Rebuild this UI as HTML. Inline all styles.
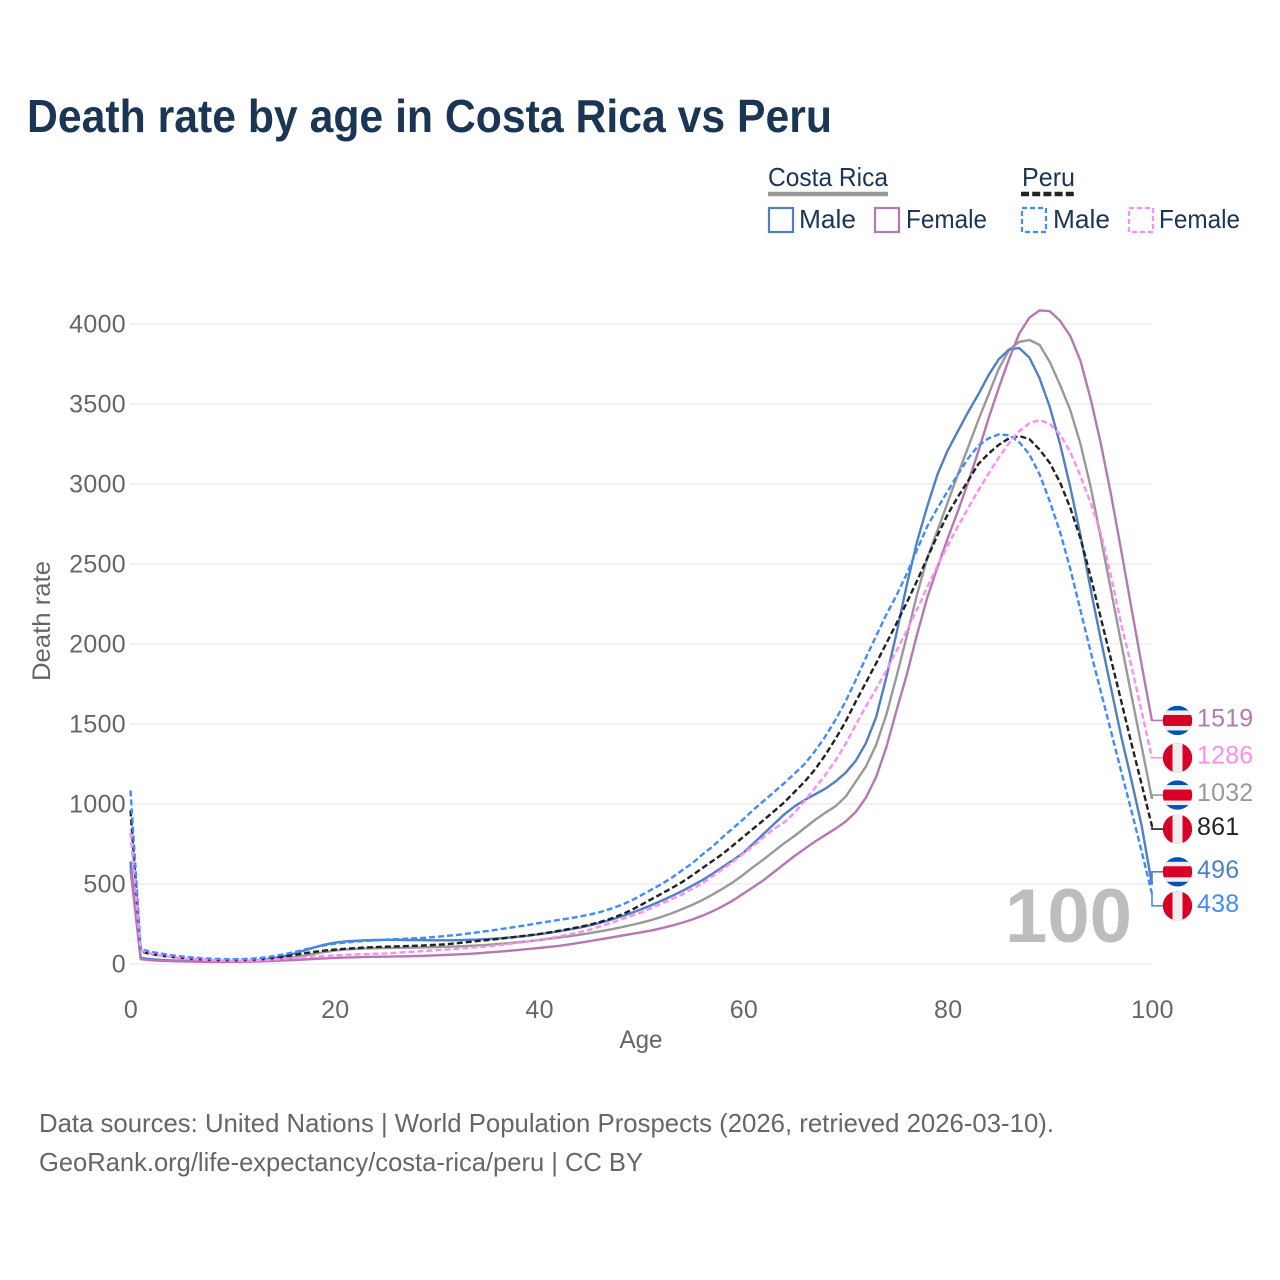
<!DOCTYPE html>
<html lang="en">
<head>
<meta charset="utf-8">
<title>Death rate by age in Costa Rica vs Peru</title>
<style>
html,body{margin:0;padding:0;background:#fff;width:1280px;height:1280px;overflow:hidden}
svg{display:block}
text{font-family:"Liberation Sans",sans-serif}
</style>
</head>
<body>
<svg id="chart" xmlns="http://www.w3.org/2000/svg" width="1280" height="1280" viewBox="0 0 1280 1280">
  <rect width="1280" height="1280" fill="#fff"/>
  <text x="27" y="132" font-size="46" font-weight="700" fill="#1b3555" textLength="805" lengthAdjust="spacingAndGlyphs">Death rate by age in Costa Rica vs Peru</text>

  <g>
    <text x="768" y="186" font-size="26" fill="#1b3555" textLength="120" lengthAdjust="spacingAndGlyphs">Costa Rica</text>
    <line x1="768" x2="888" y1="194" y2="194" stroke="#999" stroke-width="4.5"/>
    <text x="1022" y="186" font-size="26" fill="#1b3555" textLength="53" lengthAdjust="spacingAndGlyphs">Peru</text>
    <line x1="1021" x2="1075" y1="194" y2="194" stroke="#222" stroke-width="4.5" stroke-dasharray="8 3.2"/>

    <g>
      <rect x="769" y="208" width="24" height="24" fill="none" stroke="#4f80c6" stroke-width="2.2"/>
      <text x="799" y="228" font-size="26" fill="#1b3555" textLength="57" lengthAdjust="spacingAndGlyphs">Male</text>
    </g>
    <g>
      <rect x="875" y="208" width="24" height="24" fill="none" stroke="#b678b4" stroke-width="2.2"/>
      <text x="906" y="228" font-size="26" fill="#1b3555" textLength="81" lengthAdjust="spacingAndGlyphs">Female</text>
    </g>
    <g>
      <rect x="1022" y="208" width="24" height="24" fill="none" stroke="#3f8cff" stroke-width="2.2" stroke-dasharray="5 3"/>
      <text x="1053" y="228" font-size="26" fill="#1b3555" textLength="57" lengthAdjust="spacingAndGlyphs">Male</text>
    </g>
    <g>
      <rect x="1129" y="208" width="24" height="24" fill="none" stroke="#ff8cf2" stroke-width="2.2" stroke-dasharray="5 3"/>
      <text x="1159" y="228" font-size="26" fill="#1b3555" textLength="81" lengthAdjust="spacingAndGlyphs">Female</text>
    </g>
  </g>

  <g id="grid"></g>
  <g id="yticks"></g>
  <g id="xticks"></g>
  <text transform="translate(50,621) rotate(-90)" text-anchor="middle" font-size="25" fill="#666" textLength="120" lengthAdjust="spacingAndGlyphs">Death rate</text>
  <text x="641" y="1048" text-anchor="middle" font-size="25" fill="#666" textLength="43" lengthAdjust="spacingAndGlyphs">Age</text>

  <text x="1005" y="942" font-size="76" font-weight="700" fill="#bdbdbd" textLength="127" lengthAdjust="spacingAndGlyphs">100</text>

  <g id="series"></g>
  <g id="endlabels"></g>

  <text x="39" y="1132" font-size="26" fill="#666" textLength="1015" lengthAdjust="spacingAndGlyphs">Data sources: United Nations | World Population Prospects (2026, retrieved 2026-03-10).</text>
  <text x="39" y="1171" font-size="26" fill="#666" textLength="604" lengthAdjust="spacingAndGlyphs">GeoRank.org/life-expectancy/costa-rica/peru | CC BY</text>
</svg>
<script>
const xTickLabels = [0, 20, 40, 60, 80, 100];
const yTickLabels = [0, 500, 1000, 1500, 2000, 2500, 3000, 3500, 4000];
const ages = [0,1,2,3,4,5,6,7,8,9,10,11,12,13,14,15,16,17,18,19,20,21,22,23,24,25,26,27,28,29,30,31,32,33,34,35,36,37,38,39,40,41,42,43,44,45,46,47,48,49,50,51,52,53,54,55,56,57,58,59,60,61,62,63,64,65,66,67,68,69,70,71,72,73,74,75,76,77,78,79,80,81,82,83,84,85,86,87,88,89,90,91,92,93,94,95,96,97,98,99,100];

const costaRicaTotal = [615,34,27,23,20,18,16,15,14,14,15,16,18,21,26,33,42,53,64,75,84,90,94,97,99,100,101,102,103,104,106,108,110,113,116,120,125,130,136,142,150,158,166,174,183,193,204,216,229,243,258,275,295,317,343,370,400,435,472,512,558,608,655,705,755,800,850,900,945,985,1045,1140,1235,1370,1560,1800,2050,2310,2537,2710,2885,3060,3230,3400,3560,3720,3838,3888,3900,3869,3762,3619,3462,3250,2980,2660,2330,2000,1675,1355,1032];
const costaRicaMale = [640,38,30,25,22,20,18,17,16,16,17,18,21,27,36,48,65,84,104,121,133,141,145,148,150,151,151,150,150,149,148,148,149,151,153,156,160,165,171,178,186,195,205,216,228,242,258,276,296,318,342,368,396,425,456,490,525,565,608,650,695,755,815,875,935,985,1025,1060,1095,1140,1195,1270,1381,1544,1794,2070,2370,2640,2860,3060,3210,3330,3450,3560,3680,3780,3840,3850,3790,3660,3480,3250,2980,2680,2340,2025,1720,1419,1145,860,496];
const costaRicaFemale = [590,30,24,20,18,16,15,14,13,13,14,14,15,17,19,22,25,28,32,35,38,40,42,44,45,46,47,48,50,52,54,57,60,63,67,72,77,82,88,94,100,107,114,123,133,143,154,165,176,187,198,210,224,240,258,278,302,330,362,398,440,482,525,575,625,675,720,765,805,845,890,950,1040,1170,1356,1587,1810,2060,2290,2480,2660,2830,3010,3205,3410,3600,3780,3940,4040,4085,4080,4020,3925,3770,3530,3250,2930,2580,2220,1865,1519];
const peruTotal = [960,78,62,52,44,38,33,29,27,25,24,26,28,32,38,46,56,67,76,84,90,95,99,103,106,108,110,112,114,117,120,124,130,137,144,150,157,164,172,179,187,197,208,220,232,246,263,283,307,336,370,405,440,475,512,555,600,645,690,742,795,848,900,955,1010,1075,1140,1215,1305,1405,1515,1640,1760,1880,2005,2130,2260,2395,2537,2680,2810,2920,3020,3125,3190,3245,3285,3300,3280,3215,3131,3010,2850,2660,2420,2160,1900,1640,1375,1120,861];
const peruMale = [1085,92,76,65,55,47,41,36,33,31,30,31,34,40,49,60,74,90,104,117,127,134,140,144,148,152,155,158,161,165,170,176,182,190,198,207,216,225,235,245,256,266,276,286,297,310,325,345,368,395,430,465,500,540,585,630,685,735,795,850,905,965,1020,1075,1130,1190,1250,1330,1420,1525,1640,1775,1915,2050,2185,2305,2440,2590,2735,2850,2955,3060,3160,3240,3285,3310,3305,3262,3185,3060,2890,2700,2470,2210,1950,1700,1450,1200,955,700,438];
const peruFemale = [820,85,65,52,43,36,31,27,24,22,21,21,22,24,28,33,38,42,46,50,54,57,60,62,64,66,70,74,78,82,87,91,95,100,105,110,117,125,133,141,150,161,173,186,200,215,235,256,278,300,322,350,378,405,435,470,505,550,595,640,690,740,795,845,885,945,1020,1100,1180,1270,1375,1495,1610,1720,1835,1960,2085,2215,2355,2490,2615,2735,2850,2960,3065,3165,3255,3330,3380,3400,3375,3310,3200,3050,2880,2690,2420,2120,1860,1575,1286];

const seriesOrder = [
  {key: 'costa-rica-total', values: costaRicaTotal, color: '#999999', dashed: false, flag: 'cr'},
  {key: 'costa-rica-male', values: costaRicaMale, color: '#4f80c6', dashed: false, flag: 'cr'},
  {key: 'costa-rica-female', values: costaRicaFemale, color: '#b678b4', dashed: false, flag: 'cr'},
  {key: 'peru-total', values: peruTotal, color: '#222222', dashed: true, flag: 'pe'},
  {key: 'peru-male', values: peruMale, color: '#3f8cff', dashed: true, flag: 'pe'},
  {key: 'peru-female', values: peruFemale, color: '#ff8cf2', dashed: true, flag: 'pe'}
];

const NS = 'http://www.w3.org/2000/svg';
const xScale = function (age) { return 130.5 + age * 10.215; };
const yScale = function (v) { return 964 - v * 0.16; };

function make(tag, attrs, parent) {
  const el = document.createElementNS(NS, tag);
  for (const k in attrs) { el.setAttribute(k, attrs[k]); }
  parent.appendChild(el);
  return el;
}

const gridG = document.getElementById('grid');
const yTickG = document.getElementById('yticks');
const xTickG = document.getElementById('xticks');
const seriesG = document.getElementById('series');
const endG = document.getElementById('endlabels');

yTickLabels.forEach(function (t) {
  const line = make('line', {x1: 130, x2: 1152, y1: yScale(t), y2: yScale(t), stroke: '#eeeeee', 'stroke-width': 1.5}, gridG);
  
  
  const label = make('text', {x: 126, y: yScale(t) + 8.5, 'text-anchor': 'end', 'font-size': 25, fill: '#666', 'letter-spacing': '0.3'}, yTickG);
  label.textContent = t;
  
  
});

xTickLabels.forEach(function (t) {
  const label = make('text', {x: xScale(t) + 0.5, y: 1018, 'text-anchor': 'middle', 'font-size': 25, fill: '#666', 'letter-spacing': '0.3'}, xTickG);
  label.textContent = t;
  
  
});

seriesOrder.forEach(function (s) {
  const pts = s.values.map(function (v, i) { return xScale(ages[i]).toFixed(2) + ',' + yScale(v).toFixed(2); }).join(' ');
  const line = make('polyline', {points: pts, fill: 'none', stroke: s.color, 'stroke-width': 2.4, 'stroke-linejoin': 'round'}, seriesG);
  if (s.dashed) { line.setAttribute('stroke-dasharray', '6 3'); }
  
  
});

/* End labels: sorted by value, overlapping neighbours spread around their shared centre */
const MIN_GAP = 34;
const ends = seriesOrder.map(function (s) {
  const v = s.values[s.values.length - 1];
  return {s: s, v: v, target: yScale(v)};
}).sort(function (a, b) { return a.target - b.target; });

let clusters = ends.map(function (e) { return {items: [e], center: e.target}; });
let merged = true;
while (merged) {
  merged = false;
  for (let i = 0; i < clusters.length - 1; i++) {
    const a = clusters[i], b = clusters[i + 1];
    const aBottom = a.center + (a.items.length - 1) * MIN_GAP / 2;
    const bTop = b.center - (b.items.length - 1) * MIN_GAP / 2;
    if (bTop - aBottom < MIN_GAP) {
      const items = a.items.concat(b.items);
      const center = items.reduce(function (acc, it) { return acc + it.target; }, 0) / items.length;
      clusters.splice(i, 2, {items: items, center: center});
      merged = true;
      break;
    }
  }
}
clusters.forEach(function (c) {
  c.items.forEach(function (it, i) {
    it.y = c.center + (i - (c.items.length - 1) / 2) * MIN_GAP - 0.5;
  });
});

let clipCount = 0;
ends.forEach(function (e) {
  const g = make('g', {}, endG);
  
  

  const conn = make('polyline', {points: '1152,' + e.target.toFixed(2) + ' 1152,' + e.y.toFixed(2) + ' 1163,' + e.y.toFixed(2), fill: 'none', stroke: e.s.color, 'stroke-width': 1.6}, g);
  
  

  const cx = 1177.5, r = 14.7;
  clipCount += 1;
  const clipId = 'flag-clip-' + clipCount;
  const clip = make('clipPath', {id: clipId}, g);
  make('circle', {cx: cx, cy: e.y, r: r}, clip);
  const flag = make('g', {'clip-path': 'url(#' + clipId + ')'}, g);
  
  
  if (e.s.flag === 'cr') {
    make('rect', {x: cx - r, y: e.y - r, width: 2 * r, height: 2 * r, fill: '#0052b4'}, flag);
    make('rect', {x: cx - r, y: e.y - 10, width: 2 * r, height: 20, fill: '#eeeeee'}, flag);
    make('rect', {x: cx - r, y: e.y - 5.5, width: 2 * r, height: 11, fill: '#d80027'}, flag);
  } else {
    make('rect', {x: cx - r, y: e.y - r, width: 2 * r, height: 2 * r, fill: '#d80027'}, flag);
    make('rect', {x: cx - 5, y: e.y - r, width: 10, height: 2 * r, fill: '#eeeeee'}, flag);
  }

  const txt = make('text', {x: 1197, y: e.y + 6, 'font-size': 25, fill: e.s.color, 'letter-spacing': '0.2'}, g);
  txt.textContent = e.v;
  
  
});
</script>
</body>
</html>
